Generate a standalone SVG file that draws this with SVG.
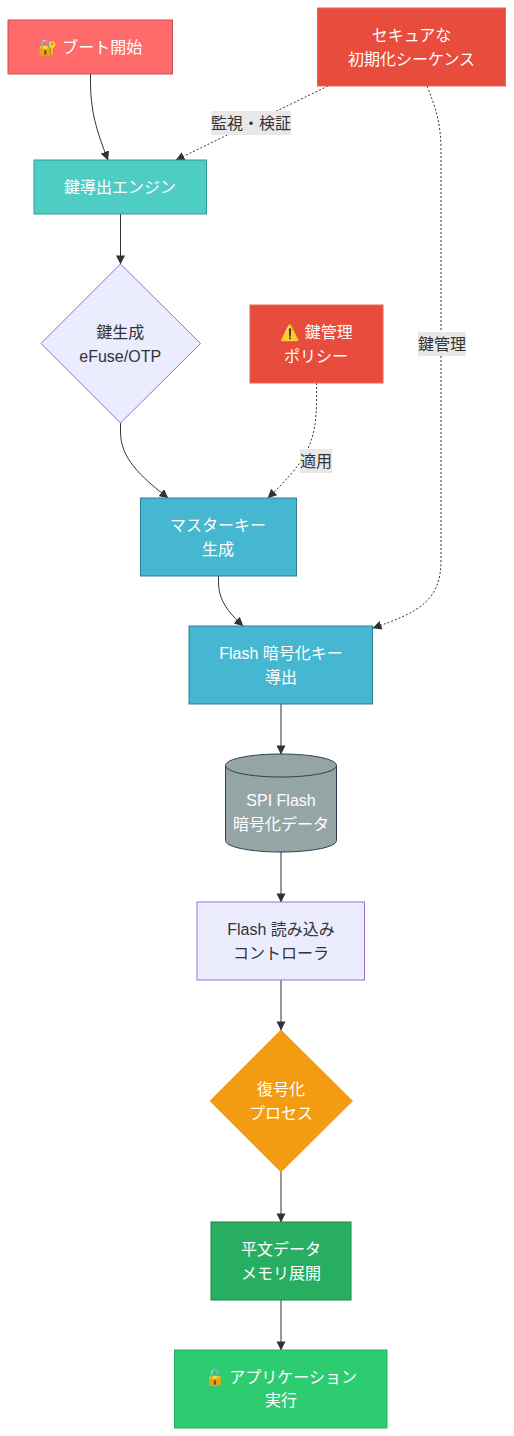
<svg xmlns="http://www.w3.org/2000/svg" width="514" height="1436" viewBox="0 0 514 1436">
<defs>
<style>
text{font-family:"Liberation Sans","Noto Sans CJK JP",sans-serif;font-size:16px;text-anchor:middle}
.w{fill:#fff}.d{fill:#333}
.e{fill:none;stroke:#333;stroke-width:1}
.da{stroke-dasharray:2 2}
.lb{fill:#e8e8e8}
</style>
<marker id="a" viewBox="0 0 10 10" refX="9.500" refY="5" markerWidth="9" markerHeight="9" markerUnits="userSpaceOnUse" orient="auto"><path d="M0 0L10 5L0 10z" fill="#333"/></marker>
</defs>
<g id="connectors">
<path class="e" marker-end="url(#a)" d="M90.500 74V82C90.500 110 96 130 108 160"/>
<path class="e da" marker-end="url(#a)" d="M328 86L176 160"/>
<path class="e da" marker-end="url(#a)" d="M427 86C436 108 441 125 441 150V560C441 600 420 612 373 628"/>
<path class="e" marker-end="url(#a)" d="M120.500 214V264"/>
<path class="e" marker-end="url(#a)" d="M120.500 423V432C120.500 458 140 476 168 498"/>
<path class="e da" marker-end="url(#a)" d="M316.500 383V400C316.500 445 305 462 268 498"/>
<path class="e" marker-end="url(#a)" d="M218.500 576V582C218.500 600 228 612 243 626"/>
<path class="e" marker-end="url(#a)" d="M281 704V754"/>
<path class="e" marker-end="url(#a)" d="M281 852V902"/>
<path class="e" marker-end="url(#a)" d="M281 980V1030"/>
<path class="e" marker-end="url(#a)" d="M281 1172V1222"/>
<path class="e" marker-end="url(#a)" d="M281 1300V1350"/>
<rect class="lb" x="211" y="111" width="80" height="24"/>
<text class="d" x="251" y="128.500">監視・検証</text>
<rect class="lb" x="418" y="332" width="48" height="24"/>
<text class="d" x="442" y="349.500">鍵管理</text>
<rect class="lb" x="300" y="449" width="32" height="24"/>
<text class="d" x="316" y="466.500">適用</text>
</g>
<g id="boot"><rect x="8" y="20" width="164.500" height="54" fill="#ff6b6b" stroke="#c9505a"/><text class="w" x="90" y="52.500">🔐 ブート開始</text></g>
<g id="seq"><rect x="317.500" y="8" width="188" height="78" fill="#e74c3c" stroke="#e8675a"/><text class="w" x="411.500" y="40.500">セキュアな</text><text class="w" x="411.500" y="64.500">初期化シーケンス</text></g>
<g id="engine"><rect x="34" y="160" width="172.500" height="54" fill="#4ecdc4" stroke="#2f9c95"/><text class="w" x="120" y="192.500">鍵導出エンジン</text></g>
<g id="keygen"><polygon points="120.500,264 200.500,343.500 120.500,423 41,343.500" fill="#ececff" stroke="#9370db"/><text class="d" x="120.200" y="337.500">鍵生成</text><text class="d" x="120.200" y="361.500">eFuse/OTP</text></g>
<g id="policy"><rect x="250" y="305" width="133" height="78" fill="#e74c3c" stroke="#e8675a"/><text class="w" x="316.500" y="337.500">⚠️ 鍵管理</text><text class="w" x="316" y="361.500">ポリシー</text></g>
<g id="master"><rect x="140.500" y="498" width="156" height="78" fill="#45b7d1" stroke="#2f7f98"/><text class="w" x="218" y="530.500">マスターキー</text><text class="w" x="218" y="554.500">生成</text></g>
<g id="flashkey"><rect x="189" y="626" width="183.500" height="78" fill="#45b7d1" stroke="#2f7f98"/><text class="w" x="281" y="658.500">Flash 暗号化キー</text><text class="w" x="281" y="682.500">導出</text></g>
<g id="spi"><path d="M225.500 765.500C225.500 759 250 754 281 754C312 754 336.500 759 336.500 765.500V840.500C336.500 847 312 852 281 852C250 852 225.500 847 225.500 840.500Z" fill="#95a5a6" stroke="#2c3e50"/><path d="M225.500 765.500C225.500 772 250 777 281 777C312 777 336.500 772 336.500 765.500" fill="none" stroke="#2c3e50"/><text class="w" x="281" y="806">SPI Flash</text><text class="w" x="281" y="830">暗号化データ</text></g>
<g id="reader"><rect x="197" y="902" width="167.500" height="78" fill="#ececff" stroke="#9370db"/><text class="d" x="281" y="934.500">Flash 読み込み</text><text class="d" x="281" y="958.500">コントローラ</text></g>
<g id="decrypt"><polygon points="281,1030 352.500,1101 281,1172 210,1101" fill="#f39c12" stroke="#e8a33a"/><text class="w" x="281" y="1095">復号化</text><text class="w" x="281" y="1119">プロセス</text></g>
<g id="plain"><rect x="211" y="1222" width="140" height="78" fill="#27ae60" stroke="#1e8449"/><text class="w" x="281" y="1254.500">平文データ</text><text class="w" x="281" y="1278.500">メモリ展開</text></g>
<g id="app"><rect x="174.500" y="1350" width="212.500" height="78" fill="#2ecc71" stroke="#27ae60"/><text class="w" x="281" y="1382.500">🔓 アプリケーション</text><text class="w" x="281" y="1406">実行</text></g>
</svg>
